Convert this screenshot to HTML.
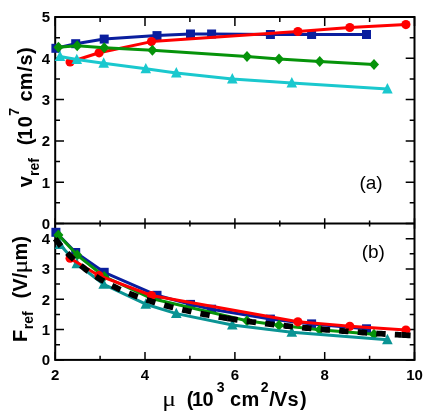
<!DOCTYPE html>
<html><head><meta charset="utf-8"><title>chart</title>
<style>html,body{margin:0;padding:0;background:#fff;overflow:hidden}body{width:433px;height:415px;font-family:"Liberation Sans",sans-serif}</style>
</head><body>
<svg width="433" height="415" viewBox="0 0 433 415" style="display:block;will-change:transform">
<rect width="433" height="415" fill="#fff"/>
<g stroke="#000" fill="none">
<rect x="55.2" y="17.0" width="359.3" height="342.9" stroke-width="2"/>
<line x1="55.2" y1="223.5" x2="414.5" y2="223.5" stroke-width="2"/>
<path stroke-width="1.5" d="M55.2 17.0v9.0M55.2 218.3v10.4M55.2 359.9v-8.0M100.1 17.0v5.1M100.1 220.5v6.0M100.1 359.9v-4.2M145.0 17.0v9.0M145.0 218.3v10.4M145.0 359.9v-8.0M189.9 17.0v5.1M189.9 220.5v6.0M189.9 359.9v-4.2M234.9 17.0v9.0M234.9 218.3v10.4M234.9 359.9v-8.0M279.8 17.0v5.1M279.8 220.5v6.0M279.8 359.9v-4.2M324.7 17.0v9.0M324.7 218.3v10.4M324.7 359.9v-8.0M369.6 17.0v5.1M369.6 220.5v6.0M369.6 359.9v-4.2M414.5 17.0v9.0M414.5 218.3v10.4M414.5 359.9v-8.0M55.2 223.5h8.8M414.5 223.5h-8.8M55.2 202.8h4.8M414.5 202.8h-4.8M55.2 182.2h8.8M414.5 182.2h-8.8M55.2 161.6h4.8M414.5 161.6h-4.8M55.2 140.9h8.8M414.5 140.9h-8.8M55.2 120.2h4.8M414.5 120.2h-4.8M55.2 99.6h8.8M414.5 99.6h-8.8M55.2 79.0h4.8M414.5 79.0h-4.8M55.2 58.3h8.8M414.5 58.3h-8.8M55.2 37.7h4.8M414.5 37.7h-4.8M55.2 17.0h8.8M414.5 17.0h-8.8M55.2 359.9h8.8M414.5 359.9h-8.8M55.2 344.7h4.8M414.5 344.7h-4.8M55.2 329.6h8.8M414.5 329.6h-8.8M55.2 314.4h4.8M414.5 314.4h-4.8M55.2 299.3h8.8M414.5 299.3h-8.8M55.2 284.1h4.8M414.5 284.1h-4.8M55.2 269.0h8.8M414.5 269.0h-8.8M55.2 253.8h4.8M414.5 253.8h-4.8M55.2 238.7h8.8M414.5 238.7h-8.8M55.2 223.5h4.8M414.5 223.5h-4.8"/>
</g>
<g id="pa">
<polyline fill="none" stroke="#0a1e9e" stroke-width="3" stroke-linejoin="round" points="55.9,48.3 75.7,43.7 104.2,39.1 157.0,35.6 190.5,34.0 211.6,34.0 270.4,34.5 311.6,34.5 366.5,34.5"/><rect x="51.4" y="43.8" width="9" height="9" fill="#0a1e9e"/><rect x="71.2" y="39.2" width="9" height="9" fill="#0a1e9e"/><rect x="99.7" y="34.6" width="9" height="9" fill="#0a1e9e"/><rect x="152.5" y="31.1" width="9" height="9" fill="#0a1e9e"/><rect x="186.0" y="29.5" width="9" height="9" fill="#0a1e9e"/><rect x="207.1" y="29.5" width="9" height="9" fill="#0a1e9e"/><rect x="265.9" y="30.0" width="9" height="9" fill="#0a1e9e"/><rect x="307.1" y="30.0" width="9" height="9" fill="#0a1e9e"/><rect x="362.0" y="30.0" width="9" height="9" fill="#0a1e9e"/>
<polyline fill="none" stroke="#ff0000" stroke-width="3" stroke-linejoin="round" points="70.1,62.0 99.1,52.8 151.5,41.6 297.9,31.5 349.8,27.5 405.9,24.6"/><circle cx="70.1" cy="62.0" r="4.6" fill="#ff0000"/><circle cx="99.1" cy="52.8" r="4.6" fill="#ff0000"/><circle cx="151.5" cy="41.6" r="4.6" fill="#ff0000"/><circle cx="297.9" cy="31.5" r="4.6" fill="#ff0000"/><circle cx="349.8" cy="27.5" r="4.6" fill="#ff0000"/><circle cx="405.9" cy="24.6" r="4.6" fill="#ff0000"/>
<polyline fill="none" stroke="#1ac8ce" stroke-width="3" stroke-linejoin="round" points="60.0,56.6 76.8,59.6 103.7,63.2 145.8,68.8 176.3,72.9 232.3,79.0 291.8,83.0 387.4,89.0"/><polygon points="54.7,61.1 60.0,50.7 65.3,61.1" fill="#1ac8ce"/><polygon points="71.5,64.1 76.8,53.7 82.1,64.1" fill="#1ac8ce"/><polygon points="98.4,67.7 103.7,57.3 109.0,67.7" fill="#1ac8ce"/><polygon points="140.5,73.3 145.8,62.9 151.1,73.3" fill="#1ac8ce"/><polygon points="171.0,77.4 176.3,67.0 181.6,77.4" fill="#1ac8ce"/><polygon points="227.0,83.5 232.3,73.1 237.6,83.5" fill="#1ac8ce"/><polygon points="286.5,87.5 291.8,77.1 297.1,87.5" fill="#1ac8ce"/><polygon points="382.1,93.5 387.4,83.1 392.7,93.5" fill="#1ac8ce"/>
<polyline fill="none" stroke="#06930a" stroke-width="3" stroke-linejoin="round" points="58.4,47.3 77.2,45.7 104.2,47.8 152.4,50.3 247.0,56.4 279.0,59.0 319.7,61.5 374.0,64.5"/><polygon points="53.4,47.3 58.4,41.8 63.4,47.3 58.4,52.8" fill="#06930a"/><polygon points="72.2,45.7 77.2,40.2 82.2,45.7 77.2,51.2" fill="#06930a"/><polygon points="99.2,47.8 104.2,42.3 109.2,47.8 104.2,53.3" fill="#06930a"/><polygon points="147.4,50.3 152.4,44.8 157.4,50.3 152.4,55.8" fill="#06930a"/><polygon points="242.0,56.4 247.0,50.9 252.0,56.4 247.0,61.9" fill="#06930a"/><polygon points="274.0,59.0 279.0,53.5 284.0,59.0 279.0,64.5" fill="#06930a"/><polygon points="314.7,61.5 319.7,56.0 324.7,61.5 319.7,67.0" fill="#06930a"/><polygon points="369.0,64.5 374.0,59.0 379.0,64.5 374.0,70.0" fill="#06930a"/>
</g>
<g id="pb">
<polyline fill="none" stroke="#0a1e9e" stroke-width="3" stroke-linejoin="round" points="55.9,232.3 75.7,252.5 104.2,272.3 157.0,295.3 190.5,304.4 211.6,309.2 270.4,319.1 311.6,323.9 366.5,328.8"/><rect x="51.4" y="227.8" width="9" height="9" fill="#0a1e9e"/><rect x="71.2" y="248.0" width="9" height="9" fill="#0a1e9e"/><rect x="99.7" y="267.8" width="9" height="9" fill="#0a1e9e"/><rect x="152.5" y="290.8" width="9" height="9" fill="#0a1e9e"/><rect x="186.0" y="299.9" width="9" height="9" fill="#0a1e9e"/><rect x="207.1" y="304.7" width="9" height="9" fill="#0a1e9e"/><rect x="265.9" y="314.6" width="9" height="9" fill="#0a1e9e"/><rect x="307.1" y="319.4" width="9" height="9" fill="#0a1e9e"/><rect x="362.0" y="324.3" width="9" height="9" fill="#0a1e9e"/>
<polyline fill="none" stroke="#06930a" stroke-width="3" stroke-linejoin="round" points="58.4,235.0 77.2,255.1 104.2,276.5 152.4,298.8 247.0,320.8 279.0,325.3 319.7,329.8 374.0,334.2"/><polygon points="53.4,235.0 58.4,229.5 63.4,235.0 58.4,240.5" fill="#06930a"/><polygon points="72.2,255.1 77.2,249.6 82.2,255.1 77.2,260.6" fill="#06930a"/><polygon points="99.2,276.5 104.2,271.0 109.2,276.5 104.2,282.0" fill="#06930a"/><polygon points="147.4,298.8 152.4,293.3 157.4,298.8 152.4,304.3" fill="#06930a"/><polygon points="242.0,320.8 247.0,315.3 252.0,320.8 247.0,326.3" fill="#06930a"/><polygon points="274.0,325.3 279.0,319.8 284.0,325.3 279.0,330.8" fill="#06930a"/><polygon points="314.7,329.8 319.7,324.3 324.7,329.8 319.7,335.3" fill="#06930a"/><polygon points="369.0,334.2 374.0,328.7 379.0,334.2 374.0,339.7" fill="#06930a"/>
<polyline fill="none" stroke="#0a9494" stroke-width="3" stroke-linejoin="round" points="60.0,244.4 76.8,263.7 103.7,284.3 145.8,304.2 176.3,313.6 232.3,325.0 291.8,332.3 387.4,339.7"/><polygon points="54.7,248.9 60.0,238.5 65.3,248.9" fill="#0a9494"/><polygon points="71.5,268.2 76.8,257.8 82.1,268.2" fill="#0a9494"/><polygon points="98.4,288.8 103.7,278.4 109.0,288.8" fill="#0a9494"/><polygon points="140.5,308.7 145.8,298.3 151.1,308.7" fill="#0a9494"/><polygon points="171.0,318.1 176.3,307.7 181.6,318.1" fill="#0a9494"/><polygon points="227.0,329.5 232.3,319.1 237.6,329.5" fill="#0a9494"/><polygon points="286.5,336.8 291.8,326.4 297.1,336.8" fill="#0a9494"/><polygon points="382.1,344.2 387.4,333.8 392.7,344.2" fill="#0a9494"/>
<polyline fill="none" stroke="#ff0000" stroke-width="3" stroke-linejoin="round" points="70.1,258.2 99.1,275.7 151.5,295.5 297.9,321.8 349.8,326.3 405.9,330.1"/><circle cx="70.1" cy="258.2" r="4.6" fill="#ff0000"/><circle cx="99.1" cy="275.7" r="4.6" fill="#ff0000"/><circle cx="151.5" cy="295.5" r="4.6" fill="#ff0000"/><circle cx="297.9" cy="321.8" r="4.6" fill="#ff0000"/><circle cx="349.8" cy="326.3" r="4.6" fill="#ff0000"/><circle cx="405.9" cy="330.1" r="4.6" fill="#ff0000"/>
<polyline fill="none" stroke="#000" stroke-width="5.8" stroke-dasharray="9.4 9.2 9.4 9.2 9.4 9.2 9.4 9.2 9.4 9.2 9.4 9.2 9.4 9.2 9.4 9.2 9.4 9.2 9.4 9.2 9.4 9.2 9.4 9.2" points="55.2,238.7 57.2,241.3 59.2,243.9 61.2,246.3 63.3,248.6 65.3,250.9 67.3,253.0 69.3,255.1 71.3,257.1 73.3,259.0 75.3,260.9 77.3,262.6 79.4,264.3 81.4,266.0 83.4,267.6 85.4,269.2 87.4,270.7 89.4,272.1 91.4,273.5 93.4,274.9 95.5,276.2 97.5,277.5 99.5,278.7 101.5,279.9 103.5,281.1 105.5,282.2 107.5,283.3 109.5,284.4 111.6,285.4 113.6,286.4 115.6,287.4 117.6,288.4 119.6,289.3 121.6,290.2 123.6,291.1 125.6,291.9 127.7,292.8 129.7,293.6 131.7,294.4 133.7,295.2 135.7,296.0 137.7,296.7 139.7,297.4 141.8,298.2 143.8,298.8 145.8,299.5 147.8,300.2 149.8,300.8 151.8,301.5 153.8,302.1 155.8,302.7 157.9,303.3 159.9,303.9 161.9,304.5 163.9,305.0 165.9,305.6 167.9,306.1 169.9,306.7 171.9,307.2 174.0,307.7 176.0,308.2 178.0,308.7 180.0,309.2 182.0,309.6 184.0,310.1 186.0,310.5 188.0,311.0 190.1,311.4 192.1,311.9 194.1,312.3 196.1,312.7 198.1,313.1 200.1,313.5 202.1,313.9 204.1,314.3 206.2,314.7 208.2,315.0 210.2,315.4 212.2,315.8 214.2,316.1 216.2,316.5 218.2,316.8 220.2,317.2 222.3,317.5 224.3,317.8 226.3,318.2 228.3,318.5"/><polyline fill="none" stroke="#000" stroke-width="5.8" stroke-dasharray="10.1 9.2 9.4 9.2 9.4 9.2 9.4 9.2 9.4 9.2 9.4 9.2 9.4 9.2 9.4 9.2 9.4 9.2 9.4 9.2 9.4 9.2 9.4 9.2" points="227.6,318.4 229.6,318.7 231.6,319.0 233.7,319.3 235.7,319.6 237.7,319.9 239.7,320.2 241.7,320.5 243.8,320.8 245.8,321.1 247.8,321.3 249.8,321.6 251.9,321.9 253.9,322.1 255.9,322.4 257.9,322.7 259.9,322.9 262.0,323.2 264.0,323.4 266.0,323.7 268.0,323.9 270.0,324.2 272.1,324.4 274.1,324.6 276.1,324.9 278.1,325.1 280.1,325.3 282.2,325.5 284.2,325.7 286.2,326.0 288.2,326.2 290.2,326.4 292.3,326.6 294.3,326.8 296.3,327.0 298.3,327.2 300.4,327.4 302.4,327.6 304.4,327.8 306.4,328.0 308.4,328.2 310.5,328.3 312.5,328.5 314.5,328.7 316.5,328.9 318.5,329.1 320.6,329.2 322.6,329.4 324.6,329.6 326.6,329.8 328.6,329.9 330.7,330.1 332.7,330.3 334.7,330.4 336.7,330.6 338.8,330.7 340.8,330.9 342.8,331.0 344.8,331.2 346.8,331.3 348.9,331.5 350.9,331.6 352.9,331.8 354.9,331.9 356.9,332.1 359.0,332.2 361.0,332.4 363.0,332.5 365.0,332.6 367.0,332.8 369.1,332.9 371.1,333.1 373.1,333.2 375.1,333.3 377.1,333.5 379.2,333.6 381.2,333.7 383.2,333.8 385.2,334.0 387.3,334.1 389.3,334.2 391.3,334.3 393.3,334.5 395.3,334.6 397.4,334.7 399.4,334.8 401.4,334.9"/><polyline fill="none" stroke="#000" stroke-width="5.8" stroke-dasharray="9.4 9.2 9.4 9.2 9.4 9.2 9.4 9.2 9.4 9.2 9.4 9.2 9.4 9.2 9.4 9.2 9.4 9.2 9.4 9.2 9.4 9.2 9.4 9.2" points="401.3,334.9 403.6,335.0 406.0,335.2 408.3,335.3 410.6,335.4"/>
</g>
<g font-family="Liberation Sans, sans-serif" font-weight="bold" font-size="15" fill="#000">
<text x="50" y="228.9" text-anchor="end">0</text>
<text x="50" y="187.6" text-anchor="end">1</text>
<text x="50" y="146.3" text-anchor="end">2</text>
<text x="50" y="105.0" text-anchor="end">3</text>
<text x="50" y="63.7" text-anchor="end">4</text>
<text x="50" y="22.4" text-anchor="end">5</text>
<text x="50" y="365.3" text-anchor="end">0</text>
<text x="50" y="335.0" text-anchor="end">1</text>
<text x="50" y="304.7" text-anchor="end">2</text>
<text x="50" y="274.4" text-anchor="end">3</text>
<text x="50" y="244.1" text-anchor="end">4</text>
<text x="55.2" y="380.3" text-anchor="middle">2</text>
<text x="145.0" y="380.3" text-anchor="middle">4</text>
<text x="234.9" y="380.3" text-anchor="middle">6</text>
<text x="324.7" y="380.3" text-anchor="middle">8</text>
<text x="414.5" y="380.3" text-anchor="middle">10</text>
</g>
<g font-family="Liberation Sans, sans-serif" font-size="19" fill="#000"><text x="359.38" y="188.7">(a)</text><text x="361.68" y="257.8">(b)</text></g>
<g fill="#000" transform="translate(32.2,0) rotate(-90)"><text x="-187.17" y="0.00" font-family="Liberation Sans, sans-serif" font-weight="bold" font-size="20.0">v</text><text x="-176.00" y="6.30" font-family="Liberation Sans, sans-serif" font-weight="bold" font-size="14.0">ref</text><text x="-145.35" y="0.00" font-family="Liberation Sans, sans-serif" font-weight="bold" font-size="20.0">(</text><text x="-139.48" y="0.00" font-family="Liberation Sans, sans-serif" font-weight="bold" font-size="20.0">1</text><text x="-127.20" y="0.00" font-family="Liberation Sans, sans-serif" font-weight="bold" font-size="20.0">0</text><text x="-115.83" y="-13.60" font-family="Liberation Sans, sans-serif" font-weight="bold" font-size="14.0">7</text><text x="-101.62" y="0.00" font-family="Liberation Sans, sans-serif" font-weight="bold" font-size="20.0">c</text><text x="-90.23" y="0.00" font-family="Liberation Sans, sans-serif" font-weight="bold" font-size="20.0">m</text><text x="-71.75" y="0.00" font-family="Liberation Sans, sans-serif" font-weight="bold" font-size="20.0">/</text><text x="-65.40" y="0.00" font-family="Liberation Sans, sans-serif" font-weight="bold" font-size="20.0">s</text><text x="-54.08" y="0.00" font-family="Liberation Sans, sans-serif" font-weight="bold" font-size="20.0">)</text></g>
<g fill="#000" transform="translate(26.8,0) rotate(-90)"><text x="-341.88" y="0.00" font-family="Liberation Sans, sans-serif" font-weight="bold" font-size="20.0">F</text><text x="-329.30" y="6.30" font-family="Liberation Sans, sans-serif" font-weight="bold" font-size="14.0">ref</text><text x="-298.45" y="0.00" font-family="Liberation Sans, sans-serif" font-weight="bold" font-size="20.0">(</text><text x="-291.65" y="0.00" font-family="Liberation Sans, sans-serif" font-weight="bold" font-size="20.0">V</text><text x="-278.25" y="0.00" font-family="Liberation Sans, sans-serif" font-weight="bold" font-size="20.0">/</text><text x="-271.85" y="0.00" font-family="Liberation Serif, serif" font-weight="normal" font-size="20.0" transform="translate(-266.10 0) scale(1.28 1) translate(266.10 0)">μ</text><text x="-260.53" y="0.00" font-family="Liberation Sans, sans-serif" font-weight="bold" font-size="20.0">m</text><text x="-242.78" y="0.00" font-family="Liberation Sans, sans-serif" font-weight="bold" font-size="20.0">)</text></g>
<g fill="#000"><text x="163.80" y="405.70" font-family="Liberation Serif, serif" font-weight="normal" font-size="20.0" transform="translate(169.55 0) scale(1.28 1) translate(-169.55 0)">μ</text><text x="186.65" y="405.70" font-family="Liberation Sans, sans-serif" font-weight="bold" font-size="20.0">(</text><text x="192.02" y="405.70" font-family="Liberation Sans, sans-serif" font-weight="bold" font-size="20.0">1</text><text x="202.45" y="405.70" font-family="Liberation Sans, sans-serif" font-weight="bold" font-size="20.0">0</text><text x="216.65" y="392.30" font-family="Liberation Sans, sans-serif" font-weight="bold" font-size="14.0">3</text><text x="229.98" y="405.70" font-family="Liberation Sans, sans-serif" font-weight="bold" font-size="20.0">c</text><text x="241.52" y="405.70" font-family="Liberation Sans, sans-serif" font-weight="bold" font-size="20.0">m</text><text x="260.82" y="392.30" font-family="Liberation Sans, sans-serif" font-weight="bold" font-size="14.0">2</text><text x="269.30" y="405.70" font-family="Liberation Sans, sans-serif" font-weight="bold" font-size="20.0">/</text><text x="274.10" y="405.70" font-family="Liberation Sans, sans-serif" font-weight="bold" font-size="20.0">V</text><text x="287.60" y="405.70" font-family="Liberation Sans, sans-serif" font-weight="bold" font-size="20.0">s</text><text x="300.12" y="405.70" font-family="Liberation Sans, sans-serif" font-weight="bold" font-size="20.0">)</text></g>
</svg>
</body></html>
